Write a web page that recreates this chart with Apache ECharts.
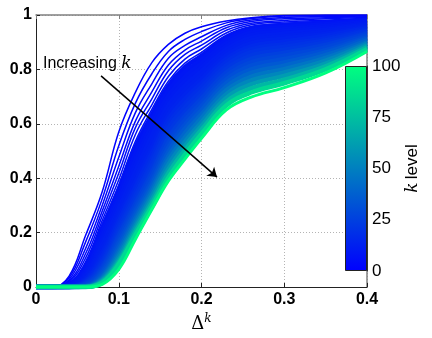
<!DOCTYPE html>
<html>
<head>
<meta charset="utf-8">
<script src="https://cdn.jsdelivr.net/npm/echarts/dist/echarts.min.js"></script>
<style>
html, body { margin: 0; padding: 0; background: #fff; }
#chart { width: 432px; height: 338px; }
</style>
</head>
<body>
<div id="chart"></div>
<script>
// x positions (Delta^k) where every curve is sampled
const delta = [0, 0.02, 0.04, 0.06, 0.08, 0.1, 0.12, 0.14, 0.16, 0.18, 0.2, 0.23, 0.26, 0.3, 0.35, 0.4]

// k level of each drawn curve
const kLevels = [1, 2, 3, 4, 5, 6, 7, 8, 9, 10, 11, 12, 13, 14, 16, 18, 20, 22, 25, 28, 31, 35, 40, 46, 53, 61, 72, 85, 100]

// curve values, one array per k level
const k1 = [0, 0, 0.04, 0.19, 0.35, 0.57, 0.715, 0.825, 0.892, 0.933, 0.957, 0.978, 0.99, 0.998, 1, 1]
const k2 = [0, 0, 0.034, 0.166, 0.324, 0.519, 0.675, 0.784, 0.866, 0.91, 0.939, 0.971, 0.987, 0.996, 0.998, 0.999]
const k3 = [0, 0, 0.027, 0.142, 0.3, 0.477, 0.64, 0.747, 0.841, 0.888, 0.92, 0.962, 0.982, 0.991, 0.994, 0.996]
const k4 = [0, 0, 0.021, 0.123, 0.279, 0.444, 0.609, 0.717, 0.816, 0.871, 0.904, 0.953, 0.976, 0.986, 0.99, 0.994]
const k5 = [0, 0, 0.017, 0.107, 0.261, 0.418, 0.585, 0.692, 0.795, 0.855, 0.889, 0.944, 0.97, 0.98, 0.986, 0.991]
const k6 = [0, 0, 0.013, 0.093, 0.244, 0.394, 0.56, 0.67, 0.774, 0.838, 0.875, 0.934, 0.964, 0.974, 0.981, 0.988]
const k7 = [0, 0, 0.011, 0.084, 0.23, 0.375, 0.535, 0.653, 0.757, 0.823, 0.863, 0.926, 0.958, 0.969, 0.977, 0.985]
const k8 = [0, 0, 0.009, 0.075, 0.216, 0.357, 0.513, 0.633, 0.74, 0.808, 0.85, 0.917, 0.951, 0.963, 0.972, 0.982]
const k9 = [0, 0, 0.006, 0.065, 0.201, 0.338, 0.488, 0.613, 0.721, 0.79, 0.836, 0.907, 0.943, 0.956, 0.966, 0.979]
const k10 = [0, 0, 0.004, 0.055, 0.186, 0.321, 0.465, 0.594, 0.703, 0.773, 0.822, 0.896, 0.935, 0.948, 0.96, 0.975]
const k11 = [0, 0, 0.003, 0.046, 0.17, 0.305, 0.444, 0.576, 0.685, 0.756, 0.807, 0.885, 0.926, 0.94, 0.953, 0.97]
const k12 = [0, 0, 0.002, 0.038, 0.155, 0.288, 0.423, 0.554, 0.668, 0.74, 0.793, 0.874, 0.916, 0.931, 0.946, 0.966]
const k13 = [0, 0, 0.001, 0.032, 0.14, 0.273, 0.404, 0.532, 0.65, 0.723, 0.779, 0.863, 0.906, 0.922, 0.939, 0.962]
const k14 = [0, 0, 0, 0.027, 0.126, 0.258, 0.386, 0.511, 0.633, 0.707, 0.764, 0.851, 0.896, 0.913, 0.931, 0.957]
const k16 = [0, 0, 0, 0.023, 0.112, 0.243, 0.368, 0.492, 0.617, 0.691, 0.75, 0.839, 0.885, 0.903, 0.924, 0.952]
const k18 = [0, 0, 0, 0.019, 0.099, 0.229, 0.352, 0.474, 0.6, 0.675, 0.736, 0.827, 0.874, 0.893, 0.915, 0.947]
const k20 = [0, 0, 0, 0.016, 0.089, 0.215, 0.336, 0.457, 0.584, 0.66, 0.721, 0.814, 0.863, 0.883, 0.907, 0.942]
const k22 = [0, 0, 0, 0.013, 0.08, 0.202, 0.321, 0.439, 0.566, 0.643, 0.707, 0.802, 0.851, 0.872, 0.899, 0.936]
const k25 = [0, 0, 0, 0.01, 0.071, 0.189, 0.306, 0.422, 0.548, 0.628, 0.693, 0.789, 0.839, 0.861, 0.89, 0.931]
const k28 = [0, 0, 0, 0.007, 0.062, 0.175, 0.292, 0.406, 0.53, 0.613, 0.678, 0.776, 0.826, 0.85, 0.881, 0.925]
const k31 = [0, 0, 0, 0.004, 0.054, 0.162, 0.279, 0.39, 0.513, 0.597, 0.664, 0.763, 0.814, 0.838, 0.871, 0.919]
const k35 = [0, 0, 0, 0.003, 0.045, 0.149, 0.265, 0.376, 0.497, 0.582, 0.65, 0.75, 0.8, 0.826, 0.862, 0.913]
const k40 = [0, 0, 0, 0.002, 0.037, 0.136, 0.252, 0.362, 0.481, 0.566, 0.635, 0.736, 0.787, 0.814, 0.852, 0.907]
const k46 = [0, 0, 0, 0.001, 0.032, 0.124, 0.239, 0.348, 0.466, 0.55, 0.621, 0.723, 0.773, 0.801, 0.842, 0.9]
const k53 = [0, 0, 0, 0, 0.027, 0.112, 0.226, 0.335, 0.45, 0.534, 0.606, 0.709, 0.759, 0.789, 0.832, 0.894]
const k61 = [0, 0, 0, 0, 0.023, 0.101, 0.215, 0.321, 0.433, 0.518, 0.592, 0.695, 0.745, 0.776, 0.821, 0.888]
const k72 = [0, 0, 0, 0, 0.019, 0.092, 0.203, 0.308, 0.418, 0.503, 0.578, 0.681, 0.73, 0.762, 0.811, 0.881]
const k85 = [0, 0, 0, 0, 0.015, 0.084, 0.191, 0.295, 0.402, 0.487, 0.563, 0.667, 0.715, 0.749, 0.8, 0.874]
const k100 = [0, 0, 0, 0, 0.01, 0.065, 0.175, 0.285, 0.39, 0.47, 0.547, 0.651, 0.698, 0.733, 0.787, 0.866]

const curves = [k1, k2, k3, k4, k5, k6, k7, k8, k9, k10, k11, k12, k13, k14, k16, k18, k20, k22, k25, k28, k31, k35, k40, k46, k53, k61, k72, k85, k100]

// annotation arrow, in data coordinates
const arrowFrom = [0.0786, 0.776]
const arrowTo = [0.2187, 0.404]

const FONT = 'Liberation Sans, Arial, sans-serif'
const SERIF = 'DejaVu Serif, Liberation Serif, serif'

// blue (k=0) -> spring green (k=100)
function kColor(k) {
  const f = k / 100
  const g = Math.round(255 * f)
  const b = Math.round(255 - 127 * f)
  return 'rgb(0,' + g + ',' + b + ')'
}

const chart = echarts.init(document.getElementById('chart'), null, { renderer: 'canvas' })

const lineSeries = curves.map((ys, i) => {
  const k = kLevels[i]
  let width = 4.5
  if (k <= 7) width = 1.5
  if (k === 100) width = 3
  return {
    type: 'line',
    xAxisIndex: 0,
    yAxisIndex: 0,
    data: delta.map((x, j) => [x, ys[j]]),
    showSymbol: false,
    smooth: 0.4,
    silent: true,
    lineStyle: { color: kColor(k), width },
    z: 2,
  }
})

const option = {
  animation: false,
  backgroundColor: '#fff',
  grid: [
    { left: 36, top: 15, width: 331, height: 272, outerBoundsMode: 'none', containLabel: false },
    { left: 345, top: 66, width: 22, height: 205, outerBoundsMode: 'none', containLabel: false },
  ],
  xAxis: [
    {
      type: 'value', gridIndex: 0, min: 0, max: 0.4, interval: 0.1,
      axisLine: { show: true, onZero: false, lineStyle: { color: '#222', width: 1 } },
      axisTick: { show: true, inside: true, length: 4, lineStyle: { color: '#222' } },
      axisLabel: { color: '#000', fontFamily: FONT, fontWeight: 'bold', fontSize: 16, margin: 5 },
      splitLine: { show: true, lineStyle: { color: '#b4b4b4', type: [1, 2], width: 1 } },
      name: '{d|Δ}{s|k}',
      nameLocation: 'middle',
      nameGap: 18,
      nameTextStyle: {
        rich: {
          d: { fontFamily: SERIF, fontSize: 18, color: '#000', lineHeight: 22 },
          s: { fontFamily: SERIF, fontStyle: 'italic', fontSize: 12, color: '#000', verticalAlign: 'top', lineHeight: 22 },
        },
      },
    },
    {
      type: 'value', gridIndex: 0, min: 0, max: 0.4, interval: 0.1, position: 'top',
      axisLine: { show: true, onZero: false, lineStyle: { color: '#808080', width: 1.5 } },
      axisTick: { show: true, inside: true, length: 4, lineStyle: { color: '#808080' } },
      axisLabel: { show: false },
      splitLine: { show: false },
    },
    {
      type: 'category', gridIndex: 1, data: ['k'], show: false, boundaryGap: true,
    },
  ],
  yAxis: [
    {
      type: 'value', gridIndex: 0, min: 0, max: 1, interval: 0.2,
      axisLine: { show: true, onZero: false, lineStyle: { color: '#222', width: 1 } },
      axisTick: { show: true, inside: true, length: 4, lineStyle: { color: '#222' } },
      axisLabel: { color: '#000', fontFamily: FONT, fontWeight: 'bold', fontSize: 16, margin: 4 },
      splitLine: { show: true, lineStyle: { color: '#b4b4b4', type: [1, 2], width: 1 } },
    },
    {
      type: 'value', gridIndex: 0, min: 0, max: 1, interval: 0.2, position: 'right',
      axisLine: { show: true, onZero: false, lineStyle: { color: '#808080', width: 1.5 } },
      axisTick: { show: false },
      axisLabel: { show: false },
      splitLine: { show: false },
    },
    {
      type: 'value', gridIndex: 1, min: 0, max: 100, interval: 25, position: 'right',
      axisLine: { show: true, onZero: false, lineStyle: { color: '#333', width: 1 } },
      axisTick: { show: false },
      axisLabel: { color: '#000', fontFamily: FONT, fontSize: 17, margin: 5 },
      splitLine: { show: false },
      name: '{k|k} {t|level}',
      nameLocation: 'middle',
      nameGap: 37,
      nameTextStyle: {
        rich: {
          k: { fontFamily: SERIF, fontStyle: 'italic', fontSize: 17, color: '#000' },
          t: { fontFamily: FONT, fontSize: 17, color: '#000' },
        },
      },
    },
  ],
  graphic: [
    {
      type: 'text',
      left: 43,
      top: 55,
      z: 20,
      silent: true,
      style: {
        text: '{a|Increasing }{b|k}',
        rich: {
          a: { fontFamily: FONT, fontSize: 16, fill: '#000' },
          b: { fontFamily: SERIF, fontStyle: 'italic', fontSize: 17, fill: '#000' },
        },
      },
    },
  ],
  series: [
    ...lineSeries,
    {
      type: 'line',
      xAxisIndex: 0,
      yAxisIndex: 0,
      data: [],
      silent: true,
      z: 10,
      markLine: {
        silent: true,
        symbol: ['none', 'arrow'],
        symbolSize: 9,
        label: { show: false },
        lineStyle: { color: '#000', width: 1.5, type: 'solid' },
        emphasis: { disabled: true },
        animation: false,
        data: [[{ coord: arrowFrom }, { coord: arrowTo }]],
      },
    },
    {
      type: 'bar',
      xAxisIndex: 2,
      yAxisIndex: 2,
      data: [100],
      barWidth: '100%',
      silent: true,
      itemStyle: {
        color: {
          type: 'linear', x: 0, y: 0, x2: 0, y2: 1,
          colorStops: [
            { offset: 0, color: kColor(100) },
            { offset: 1, color: kColor(0) },
          ],
        },
        borderColor: '#222',
        borderWidth: 1,
      },
      z: 5,
    },
  ],
}

chart.setOption(option)
</script>
</body>
</html>
